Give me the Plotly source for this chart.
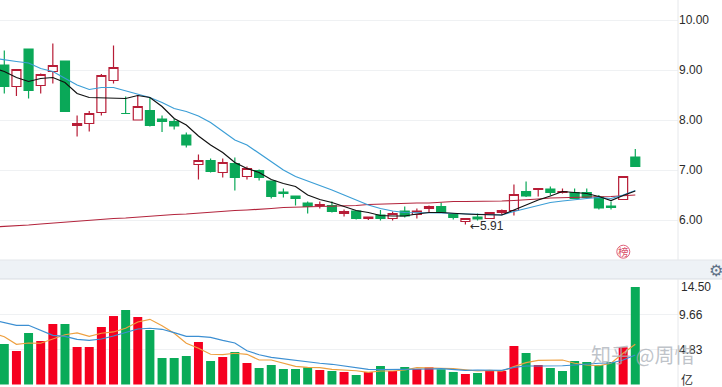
import plotly.graph_objects as go

# Price candles, index 0..52
opens = [9.10,8.67,9.42,8.69,8.97,9.18,7.89,7.93,8.15,8.79,8.13,8.00,8.19,8.02,7.97,7.70,7.11,7.19,6.95,7.13,
         6.87,6.99,6.78,6.56,6.48,6.34,6.29,6.29,6.13,6.18,6.03,6.10,6.03,6.18,6.11,6.23,6.27,6.11,5.97,6.06,
         6.03,6.15,6.19,6.57,6.61,6.62,6.55,6.55,6.55,6.46,6.28,6.41,7.26]
closes = [8.67,9.01,8.59,8.91,9.09,8.17,7.93,8.13,8.89,9.05,8.13,8.27,7.89,7.97,7.88,7.50,7.19,6.97,7.15,6.85,
          7.03,6.85,6.47,6.53,6.43,6.27,6.31,6.17,6.17,6.03,6.06,6.03,6.13,6.08,6.18,6.27,6.15,6.05,6.03,6.02,
          6.15,6.19,6.51,6.48,6.63,6.55,6.57,6.43,6.45,6.24,6.25,6.87,7.07]
highs = [9.39,9.01,9.42,8.93,9.53,9.18,8.09,8.18,8.92,9.49,8.47,8.50,8.45,8.09,8.02,7.75,7.31,7.23,7.23,7.25,
         7.07,7.01,6.78,6.63,6.49,6.37,6.37,6.37,6.21,6.18,6.07,6.20,6.17,6.27,6.23,6.29,6.35,6.12,6.03,6.13,
         6.16,6.21,6.71,6.77,6.63,6.67,6.63,6.63,6.63,6.50,6.37,6.87,7.42]
lows = [8.53,8.48,8.43,8.53,8.73,8.17,7.67,7.77,8.09,8.73,8.13,8.00,7.87,7.76,7.81,7.45,6.81,6.95,6.85,6.59,
        6.81,6.79,6.43,6.45,6.29,6.13,6.23,6.15,6.07,6.01,6.00,5.99,5.99,6.05,6.03,6.16,6.15,6.01,5.91,5.99,
        6.02,6.10,6.09,6.46,6.47,6.49,6.53,6.42,6.44,6.21,6.21,6.41,7.07]

# Price moving averages, index -1..52
ma_black = [9.05,8.97,8.85,8.77,8.83,8.85,8.75,8.53,8.45,8.44,8.43,8.43,8.49,8.45,8.27,8.03,7.90,7.68,7.50,7.35,7.15,
            7.03,6.95,6.81,6.73,6.67,6.50,6.41,6.35,6.27,6.19,6.15,6.09,6.08,6.08,6.12,6.15,6.15,6.13,6.12,6.11,
            6.10,6.10,6.20,6.30,6.40,6.48,6.57,6.55,6.53,6.47,6.39,6.49,6.58]
ma_blue = [9.24,9.20,9.17,9.14,9.03,8.97,8.83,8.70,8.61,8.65,8.65,8.58,8.51,8.45,8.35,8.23,8.17,8.08,7.95,7.77,7.60,
           7.50,7.33,7.17,7.00,6.87,6.78,6.70,6.60,6.50,6.40,6.30,6.23,6.18,6.15,6.15,6.15,6.14,6.13,6.12,6.11,
           6.10,6.10,6.17,6.23,6.30,6.35,6.38,6.41,6.43,6.45,6.43,6.50,6.59]
ma_red = [5.86,5.87,5.88,5.90,5.92,5.94,5.96,5.97,5.99,6.01,6.03,6.04,6.06,6.08,6.09,6.11,6.12,6.14,6.16,6.17,6.19,
          6.20,6.21,6.23,6.25,6.255,6.26,6.265,6.27,6.28,6.29,6.31,6.32,6.33,6.34,6.34,6.34,6.36,6.37,6.37,6.37,
          6.38,6.38,6.39,6.40,6.42,6.44,6.45,6.455,6.46,6.465,6.47,6.49,6.50]

# Volume (亿), index 0..52
volumes = [5.59,4.62,7.11,6.00,8.35,8.35,5.18,5.18,7.94,9.45,10.28,9.32,7.52,3.66,3.66,3.93,5.87,3.24,3.80,4.49,
           2.97,2.28,2.69,2.14,2.14,2.37,2.00,1.86,1.73,1.31,1.73,2.55,1.86,2.42,2.14,2.37,2.10,1.73,1.45,1.59,
           2.00,1.86,5.31,4.35,2.69,2.28,1.86,3.24,3.11,2.69,3.11,5.13,13.46]
vol_up = [0,1,0,1,1,0,1,1,1,1,0,1,0,0,0,0,1,0,1,0,
          1,0,0,0,0,0,1,0,1,0,1,0,1,0,1,1,0,0,1,0,
          1,1,1,0,1,0,0,0,0,0,0,1,0]

# Volume moving averages, index -1..52
vma_blue = [8.90,8.53,8.17,8.17,7.48,6.79,6.65,6.24,6.10,6.28,6.69,7.15,7.66,7.76,7.62,7.15,6.65,6.65,6.51,6.10,5.73,
            4.66,4.11,3.75,3.52,3.34,3.15,2.93,2.79,2.55,2.28,2.10,2.04,2.04,2.14,2.14,2.14,2.18,2.04,1.96,2.00,
            1.96,1.96,2.37,2.55,2.55,2.55,2.59,2.69,2.83,2.93,2.97,3.38,4.07]
vma_orange = [7.11,6.60,5.55,5.73,5.69,6.28,6.87,7.11,6.65,7.07,7.25,7.76,8.63,9.00,8.11,7.07,5.69,5.00,4.17,4.11,4.31,
              4.17,3.38,3.38,2.93,2.51,2.37,2.32,2.10,2.04,1.90,1.68,1.86,1.86,2.00,2.32,2.32,2.24,2.18,2.00,1.86,
              1.96,1.86,2.46,3.01,3.34,3.34,3.38,2.93,2.69,2.59,2.93,4.31,5.55]

price_ticks = [6, 7, 8, 9, 10]
price_labels = ["6.00", "7.00", "8.00", "9.00", "10.00"]
vol_ticks = [4.83, 9.66]
vol_labels = ["4.83", "9.66"]

W, H = 722, 387
idx = list(range(len(opens)))
ma_idx = list(range(-1, len(opens)))
X_RANGE = [-0.354, 55.52]
FONT = "Liberation Sans, Arial, sans-serif"
TXT = "#2b2b2b"
GRID = "#eff1f3"

fig = go.Figure()
fig.add_trace(go.Candlestick(
    x=idx, open=opens, high=highs, low=lows, close=closes,
    whiskerwidth=0,
    increasing=dict(line=dict(color="#b71c36", width=1.2), fillcolor="#ffffff"),
    decreasing=dict(line=dict(color="#0aa858", width=1.2), fillcolor="#0aa858"),
    xaxis="x", yaxis="y", showlegend=False, hoverinfo="skip"))
for vals, col, w in [(ma_red, "#b3243c", 1.2), (ma_blue, "#3b9ed6", 1.2), (ma_black, "#111111", 1.2)]:
    fig.add_trace(go.Scatter(x=ma_idx, y=vals, mode="lines", line=dict(color=col, width=w),
                             xaxis="x", yaxis="y", showlegend=False, hoverinfo="skip"))
fig.add_trace(go.Bar(x=idx, y=volumes, width=0.74,
                     marker=dict(color=["#f5001f" if u else "#09ab58" for u in vol_up], line=dict(width=0)),
                     xaxis="x2", yaxis="y2", showlegend=False, hoverinfo="skip"))
for vals, col in [(vma_orange, "#eea040"), (vma_blue, "#3c8fd2")]:
    fig.add_trace(go.Scatter(x=ma_idx, y=vals, mode="lines", line=dict(color=col, width=1.2),
                             xaxis="x2", yaxis="y2", showlegend=False, hoverinfo="skip"))

panel_right = 678 / W
shapes = [
    dict(type="rect", xref="paper", yref="paper", x0=0, x1=1, y0=1 - 279 / H, y1=1 - 260 / H,
         fillcolor="#eef2f6", line=dict(width=0), layer="below"),
    dict(type="line", xref="paper", yref="paper", x0=0, x1=1, y0=1 - 279 / H, y1=1 - 279 / H,
         line=dict(color="#d9dde2", width=1)),
    dict(type="line", xref="paper", yref="paper", x0=0, x1=1, y0=1 - 260 / H, y1=1 - 260 / H,
         line=dict(color="#e3e6ea", width=1)),
    dict(type="line", xref="paper", yref="paper", x0=panel_right, x1=panel_right, y0=1 - 260 / H, y1=1,
         line=dict(color="#e6e8eb", width=1)),
    dict(type="line", xref="paper", yref="paper", x0=panel_right, x1=panel_right, y0=0, y1=1 - 279 / H,
         line=dict(color="#e6e8eb", width=1)),
    dict(type="circle", xref="paper", yref="paper", x0=616.8 / W, x1=629.8 / W, y0=1 - 258.2 / H, y1=1 - 245.2 / H,
         line=dict(color="#e0607a", width=1)),
]
annotations = [
    dict(x=38.25, y=5.88, xref="x", yref="y",
         text='<span style="font-family:DejaVu Sans">←</span>5.91', showarrow=False,
         xanchor="left", yanchor="middle", font=dict(family=FONT, size=12, color=TXT)),
    dict(x=623.3 / W, y=1 - 251.7 / H, xref="paper", yref="paper", text="榜", showarrow=False,
         xanchor="center", yanchor="middle",
         font=dict(family="Noto Sans CJK SC", size=10.5, color="#d9506a")),
    dict(x=679 / W, y=1 - 287 / H, xref="paper", yref="paper", text="14.50", showarrow=False,
         xanchor="left", yanchor="middle", font=dict(family=FONT, size=12, color=TXT)),
    dict(x=679 / W, y=1 - 379 / H, xref="paper", yref="paper", text="亿", showarrow=False,
         xanchor="left", yanchor="middle", font=dict(family="Noto Sans CJK SC", size=12, color=TXT)),
    dict(x=716 / W, y=1 - 270 / H, xref="paper", yref="paper", text="⚙", showarrow=False,
         xanchor="center", yanchor="middle",
         font=dict(family="DejaVu Sans", size=16, color="#5f7186")),
    dict(x=589 / W, y=1 - 354 / H, xref="paper", yref="paper", text="知乎 @周惜", showarrow=False,
         xanchor="left", yanchor="middle",
         font=dict(family="Noto Sans CJK SC", size=20, color="rgba(170,176,184,0.75)")),
]

fig.update_layout(
    width=W, height=H, margin=dict(l=0, r=0, t=0, b=0),
    paper_bgcolor="#ffffff", plot_bgcolor="#ffffff", showlegend=False,
    boxgap=0.26, boxgroupgap=0, bargap=0.26, hovermode=False,
    shapes=shapes, annotations=annotations,
    xaxis=dict(domain=[0, panel_right], range=X_RANGE, showgrid=False, zeroline=False, showticklabels=False,
               ticks="", rangeslider=dict(visible=False), fixedrange=True, anchor="y"),
    xaxis2=dict(domain=[0, panel_right], range=X_RANGE, showgrid=False, zeroline=False, showticklabels=False,
                ticks="", fixedrange=True, anchor="y2"),
    yaxis=dict(domain=[1 - 260 / H, 1], range=[5.2, 10.4], side="right", anchor="x", tickvals=price_ticks,
               ticktext=price_labels, gridcolor=GRID, gridwidth=1, zeroline=False, ticks="", fixedrange=True,
               tickfont=dict(family=FONT, size=12, color=TXT)),
    yaxis2=dict(domain=[0, 1 - 279 / H], range=[-0.345, 14.56], side="right", anchor="x2", tickvals=vol_ticks,
                ticktext=vol_labels, gridcolor=GRID, gridwidth=1, zeroline=False, ticks="", fixedrange=True,
                tickfont=dict(family=FONT, size=12, color=TXT)),
)

fig.write_html("out.html", post_script="document.body.style.margin='0';", config=dict(displayModeBar=False))
